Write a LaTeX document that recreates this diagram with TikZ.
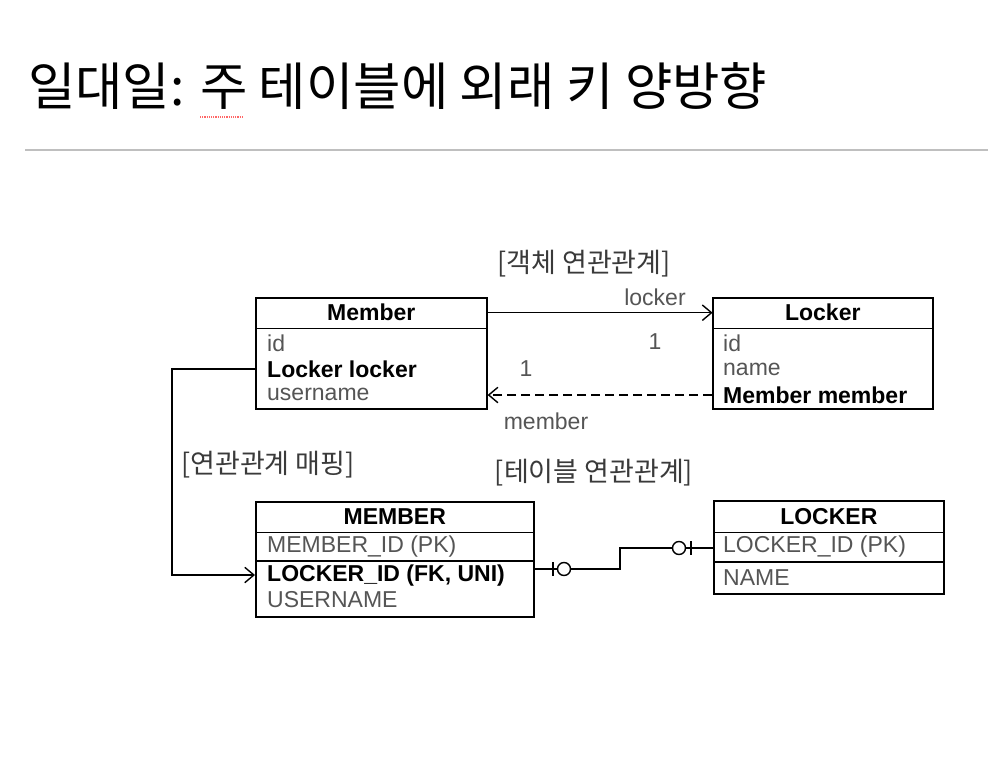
\documentclass[tikz,border=0pt]{standalone}
\usepackage{fontspec}
\setmainfont{Liberation Sans}
\newfontfamily\kfont{Noto Sans CJK KR}
\usetikzlibrary{positioning, arrows.meta, shadows}
\definecolor{fieldgray}{HTML}{555555}
\definecolor{notegray}{HTML}{3A3A3A}
\tikzset{
    entity/.style={draw=black, line width=1.6pt, fill=white, anchor=north west, inner sep=0pt,
        drop shadow={shadow xshift=1.5pt, shadow yshift=-1.5pt, opacity=0.3}},
    headcell/.style={anchor=north, inner sep=0pt, font=\bfseries\fontsize{23}{25}\selectfont},
    field/.style={anchor=west, inner sep=0pt, text=fieldgray, font=\fontsize{23}{25}\selectfont},
    keyfield/.style={field, text=black, font=\bfseries\fontsize{23}{25}\selectfont},
    note/.style={inner sep=0pt, text=notegray, font=\kfont\fontsize{27}{29}\selectfont},
    mult/.style={inner sep=0pt, text=fieldgray, font=\fontsize{23}{25}\selectfont},
    link/.style={line width=1.4pt},
    assoc/.style={link, -{Straight Barb[angle=80:12pt, line width=1.4pt]}},
}
\begin{document}
\begin{tikzpicture}[x=1pt, y=-1pt]
    \fill[white] (0,0) rectangle (988,776);
    \useasboundingbox (0,0) rectangle (988,776);

    % title
    \node[anchor=west, inner sep=0pt, font=\kfont\fontsize{51.5}{55}\selectfont] (title) at (28,86)
        {일대일: 주 테이블에 외래 키 양방향};
    \draw[red!60, densely dotted, line width=1.2pt] (200,117) -- (243,117);
    \draw[black!25, line width=2pt] (25,150) -- (988,150);

    % object model
    \node[entity, minimum width=231, minimum height=111] (member) at (255,297) {};
    \node[headcell, minimum width=231, minimum height=31] (memberHead) at (member.north) {Member};
    \draw[line width=1.6pt] (memberHead.south west) -- (memberHead.south east);
    \node[field] (memberId) at (267,343) {id};
    \node[keyfield] (memberLocker) at (267,369) {Locker locker};
    \node[field] (memberName) at (267,394) {username};

    \node[entity, minimum width=220, minimum height=111] (locker) at (712,297) {};
    \node[headcell, minimum width=220, minimum height=31] (lockerHead) at (locker.north) {Locker};
    \draw[line width=1.6pt] (lockerHead.south west) -- (lockerHead.south east);
    \node[field] (lockerId) at (723,343) {id};
    \node[field] (lockerName) at (723,369) {name};
    \node[keyfield] (lockerMember) at (723,395) {Member member};

    \draw[assoc] (memberHead.east) -- (lockerHead.west);
    \draw[assoc, dashed, dash pattern=on 9pt off 5pt] (lockerMember.west -| locker.west) -- (member.east |- lockerMember);
    \node[mult] (lockerLabel) at (655,297) {locker};
    \node[mult] (lockerOne) at (655,342) {1};
    \node[mult] (memberOne) at (526,369) {1};
    \node[mult] (memberLabel) at (546,421) {member};
    \node[note] (objNote) at (584,264) {[객체 연관관계]};

    % table model
    \node[entity, minimum width=278, minimum height=115] (MEMBER) at (255,501) {};
    \node[headcell, minimum width=278, minimum height=31] (MEMBERHead) at (MEMBER.north) {MEMBER};
    \draw[line width=1.6pt] (MEMBERHead.south west) -- (MEMBERHead.south east);
    \draw[line width=1.6pt] (MEMBER.west |- 0,561) -- (MEMBER.east |- 0,561);
    \node[field] (MEMBERId) at (267,547) {MEMBER\_ID (PK)};
    \node[keyfield] (MEMBERLocker) at (267,576) {LOCKER\_ID (FK, UNI)};
    \node[field] (MEMBERName) at (267,600) {USERNAME};

    \node[entity, minimum width=230, minimum height=93] (LOCKER) at (713,500) {};
    \node[headcell, minimum width=230, minimum height=32] (LOCKERHead) at (LOCKER.north) {LOCKER};
    \draw[line width=1.6pt] (LOCKERHead.south west) -- (LOCKERHead.south east);
    \draw[line width=1.6pt] (LOCKER.west |- 0,562) -- (LOCKER.east |- 0,562);
    \node[field] (LOCKERId) at (723,547) {LOCKER\_ID (PK)};
    \node[field] (LOCKERName) at (723,578) {NAME};

    % zero-or-one on both ends
    \draw[link] (MEMBER.east |- 0,569) -- (620,569) -- (620,548) -- (LOCKER.west |- 0,548);
    \draw[link] (553,562) -- (553,576);
    \draw[link, fill=white] (564,569) circle (6.5);
    \draw[link, fill=white] (679,548) circle (6.5);
    \draw[link] (691,541) -- (691,555);
    \node[note] (tableNote) at (594,473) {[테이블 연관관계]};

    % mapping
    \draw[assoc] (member.west |- memberLocker) -- (172,369) -- (172,575) -- (MEMBER.west |- 0,575);
    \node[note] (mapNote) at (268,465) {[연관관계 매핑]};
\end{tikzpicture}
\end{document}
